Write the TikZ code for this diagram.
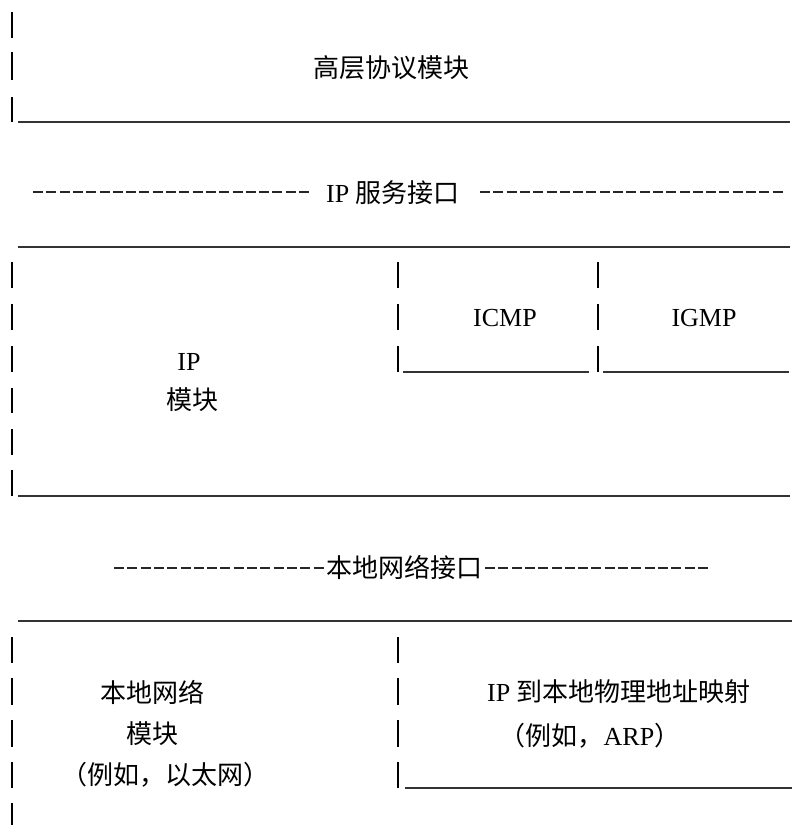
\documentclass[tikz,border=0pt]{standalone}
\usepackage{fontspec}
\setmainfont{Liberation Serif}
\newfontfamily\cjk{Noto Sans CJK SC}
\begin{document}
\begin{tikzpicture}[x=1pt,y=-1pt,
  bar/.style={line width=2.6pt,black},
  uline/.style={line width=2.1pt,black!80},
  dashrow/.style={line width=2.1pt,black!85,dash pattern=on 10pt off 3.3pt},
  lbl/.style={inner sep=0pt,font=\fontsize{26}{30}\selectfont}]
\useasboundingbox (0,0) rectangle (792,825);
% --- top: higher-level protocol module
\foreach \a/\b in {12/38,52/80,97/122} \draw[bar] (12,\a) -- (12,\b);
\draw[uline] (18,122) -- (790,122);
\node[lbl] (hl) at (391,68) {\cjk 高层协议模块};
% --- IP service interface
\draw[dashrow] (33,192) -- (309,192);
\draw[dashrow] (480,192) -- (782.6,192);
\node[lbl] (ipsi) at (393,193) {IP \cjk 服务接口};
% --- IP module block
\draw[uline] (18,247) -- (790,247);
\foreach \a/\b in {262/288,304/330,346/372,388/413,429/455,470/496} \draw[bar] (12,\a) -- (12,\b);
\foreach \a/\b in {262/288,304/330,346/372} {\draw[bar] (398,\a) -- (398,\b); \draw[bar] (598,\a) -- (598,\b);}
\draw[uline] (403,372) -- (589,372);
\draw[uline] (603,372) -- (789,372);
\draw[uline] (18,496) -- (790,496);
\node[lbl] (icmp) at (505,318) {ICMP};
\node[lbl] (igmp) at (704,318) {IGMP};
\node[lbl] (ip) at (189,362) {IP};
\node[lbl] (ipmod) at (192,400) {\cjk 模块};
% --- local network interface
\draw[dashrow] (114,568) -- (323.5,568);
\draw[dashrow] (485,568) -- (707.8,568);
\node[lbl] (lni) at (404,567) {\cjk 本地网络接口};
% --- local network module block
\draw[uline] (18,621) -- (792,621);
\foreach \a/\b in {637/663,678/705,720/747,762/788,803/825} \draw[bar] (12,\a) -- (12,\b);
\foreach \a/\b in {637/663,678/705,720/747,762/788} \draw[bar] (398,\a) -- (398,\b);
\draw[uline] (405,788) -- (792,788);
\node[lbl] (ln1) at (152,692) {\cjk 本地网络};
\node[lbl] (ln2) at (152,734) {\cjk 模块};
\node[lbl] (ln3) at (165,775) {\cjk （例如，以太网）};
\node[lbl] (map1) at (619,692) {IP {\cjk 到本地物理地址映射}};
\node[lbl] (map2) at (590,736) {{\cjk （例如，}ARP{\cjk ）}};
\end{tikzpicture}
\end{document}
